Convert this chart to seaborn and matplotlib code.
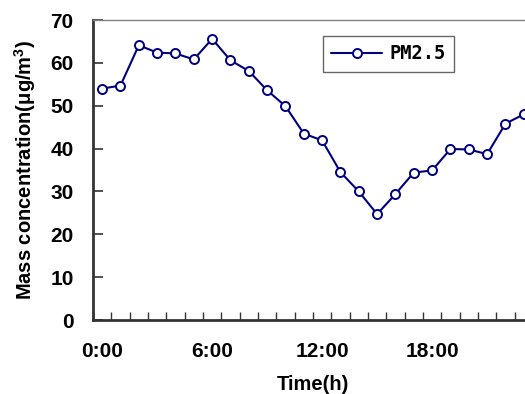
import matplotlib
matplotlib.use("Agg")
import matplotlib.pyplot as plt
from matplotlib.ticker import FixedLocator, NullFormatter
import seaborn as sns
import pandas as pd

# Hourly PM2.5 mass concentration over one day
hours = list(range(24))
pm25 = [54.0, 54.7, 64.1, 62.4, 62.2, 60.8, 65.6, 60.6, 58.1, 53.6,
        49.9, 43.5, 41.9, 34.5, 30.0, 24.7, 29.4, 34.4, 34.9, 39.9,
        39.8, 38.7, 45.8, 48.0]
xtick_pos = [0, 6, 12, 18]
xtick_labels = ["0:00", "6:00", "12:00", "18:00"]
yticks = [0, 10, 20, 30, 40, 50, 60, 70]

df = pd.DataFrame({"Time": hours, "PM2.5": pm25})

sns.set_style("white")
plt.rcParams["font.family"] = ["Liberation Sans", "DejaVu Sans"]
plt.rcParams["text.color"] = "black"
plt.rcParams["axes.labelcolor"] = "black"
plt.rcParams["xtick.color"] = "black"
plt.rcParams["ytick.color"] = "black"
plt.rcParams["mathtext.fontset"] = "custom"
plt.rcParams["mathtext.rm"] = "Liberation Sans:bold"
plt.rcParams["mathtext.default"] = "rm"

fig = plt.figure(figsize=(5.25, 3.94), dpi=100)
# axis area runs past the right edge of the figure
ax = fig.add_axes([0.1771, 0.1878, 0.838, 0.7614])

sns.lineplot(data=df, x="Time", y="PM2.5", ax=ax, color="#000080",
             linewidth=1.5, marker="o", markersize=6.5,
             markerfacecolor="white", markeredgecolor="#000080",
             markeredgewidth=1.4, label="PM2.5")

ax.set_xlim(-0.5, 23.5)
ax.set_ylim(0, 70)

ax.set_xticks(xtick_pos)
ax.set_xticklabels(xtick_labels, fontsize=15, fontweight="bold")
ax.xaxis.set_minor_locator(FixedLocator([h - 0.5 for h in range(25)]))
ax.xaxis.set_minor_formatter(NullFormatter())
ax.tick_params(axis="x", which="major", length=0, pad=16, labelcolor="black")
ax.tick_params(axis="x", which="minor", direction="in", length=6,
               width=1, color="#333333", bottom=True)

ax.set_yticks(yticks)
ax.set_yticklabels([str(v) for v in yticks], fontsize=15, fontweight="bold")
ax.tick_params(axis="y", which="major", direction="in", length=7,
               width=1.2, color="#333333", left=True, pad=14,
               labelcolor="black")

for side in ("left", "bottom"):
    ax.spines[side].set_color("#333333")
    ax.spines[side].set_linewidth(2)
ax.spines["top"].set_color("#808080")
ax.spines["top"].set_linewidth(1)
ax.spines["right"].set_visible(False)

ax.set_xlabel("Time(h)", fontsize=14.5, fontweight="bold", labelpad=10,
              color="black")
ax.set_ylabel("Mass concentration(μg/m$^3$)", fontsize=14.5,
              fontweight="bold", labelpad=9, color="black")

leg = ax.legend(loc="upper left", bbox_to_anchor=(323 / 525, 1 - 36 / 394),
                bbox_transform=fig.transFigure, frameon=True, fancybox=False,
                shadow=False, handlelength=2.7, handletextpad=0.4,
                borderpad=0.45, borderaxespad=0,
                prop={"family": "DejaVu Sans Mono", "weight": "bold",
                      "size": 13.5})
leg.get_frame().set_edgecolor("#404040")
leg.get_frame().set_linewidth(1)
leg.get_frame().set_facecolor("white")

ax.grid(False)
fig.savefig("out.png", dpi=100)
